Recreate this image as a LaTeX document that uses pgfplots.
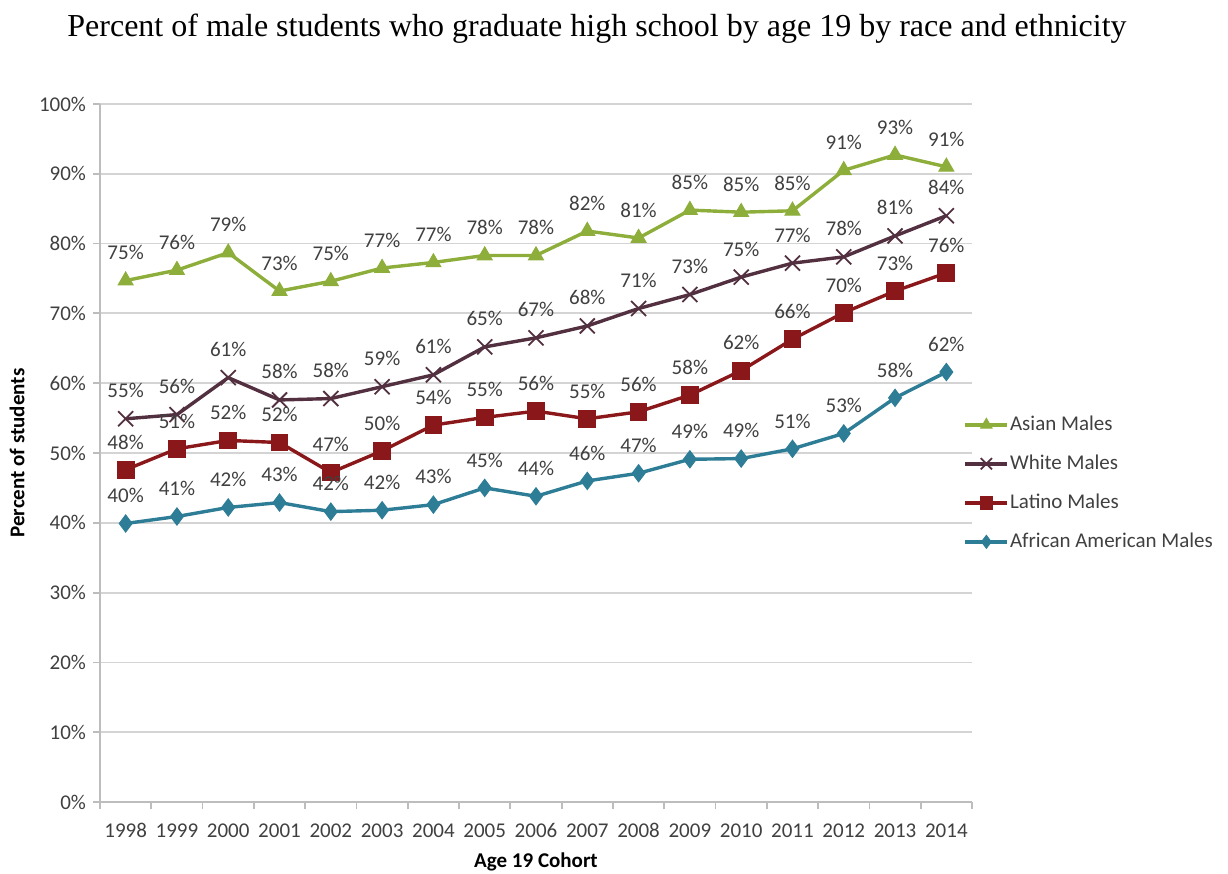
\documentclass[border=0pt]{standalone}
\usepackage{pgfplots}
\pgfplotsset{compat=1.18}
\usepackage{pgfplotstable}
\usepackage{fontspec}
\setmainfont{Carlito}
\newfontfamily\titlefont{Liberation Serif}
\definecolor{cAsian}{HTML}{8DAE3B}
\definecolor{cWhite}{HTML}{53303F}
\definecolor{cLatino}{HTML}{8A1719}
\definecolor{cAfAm}{HTML}{2E7D97}
\definecolor{gridc}{HTML}{D4D4D4}
\definecolor{axisc}{HTML}{BDBDBD}
\definecolor{txt}{HTML}{404040}

\pgfplotstableread{
x y lab
1998 74.7 75
1999 76.2 76
2000 78.7 79
2001 73.2 73
2002 74.6 75
2003 76.5 77
2004 77.3 77
2005 78.3 78
2006 78.3 78
2007 81.8 82
2008 80.8 81
2009 84.8 85
2010 84.5 85
2011 84.7 85
2012 90.5 91
2013 92.7 93
2014 91.0 91
}\asian
\pgfplotstableread{
x y lab
1998 54.9 55
1999 55.5 56
2000 60.8 61
2001 57.6 58
2002 57.8 58
2003 59.5 59
2004 61.2 61
2005 65.2 65
2006 66.5 67
2007 68.2 68
2008 70.7 71
2009 72.7 73
2010 75.2 75
2011 77.2 77
2012 78.1 78
2013 81.1 81
2014 84.0 84
}\white
\pgfplotstableread{
x y lab
1998 47.6 48
1999 50.6 51
2000 51.8 52
2001 51.5 52
2002 47.2 47
2003 50.3 50
2004 54.0 54
2005 55.1 55
2006 56.0 56
2007 54.9 55
2008 55.9 56
2009 58.3 58
2010 61.8 62
2011 66.3 66
2012 70.1 70
2013 73.2 73
2014 75.8 76
}\latino
\pgfplotstableread{
x y lab
1998 39.9 40
1999 40.9 41
2000 42.2 42
2001 42.9 43
2002 41.6 42
2003 41.8 42
2004 42.6 43
2005 45.0 45
2006 43.8 44
2007 46.0 46
2008 47.1 47
2009 49.1 49
2010 49.2 49
2011 50.6 51
2012 52.8 53
2013 57.9 58
2014 61.6 62
}\afam

\begin{document}
\begin{tikzpicture}
\begin{axis}[
  scale only axis, width=436pt, height=349pt,
  xmin=1997.5, xmax=2014.5, ymin=0, ymax=100,
  axis x line*=bottom, axis y line*=left,
  axis line style={axisc, line width=0.9pt},
  tick align=outside, major tick length=3.5pt,
  tick style={axisc, line width=0.9pt},
  ytick={0,10,...,100},
  yticklabels={0\%,10\%,20\%,30\%,40\%,50\%,60\%,70\%,80\%,90\%,100\%},
  yticklabel style={font=\fontsize{10.5}{12}\selectfont, text=txt},
  ymajorgrids, grid style={gridc, line width=0.9pt},
  xtick={1997.5,1998.5,...,2014.5}, xticklabels={},
  extra x ticks={1998,1999,2000,2001,2002,2003,2004,2005,2006,2007,2008,2009,2010,2011,2012,2013,2014},
  extra x tick labels={1998,1999,2000,2001,2002,2003,2004,2005,2006,2007,2008,2009,2010,2011,2012,2013,2014},
  extra x tick style={major tick length=0pt, xticklabel style={font=\fontsize{10.5}{12}\selectfont, text=txt, text height=7pt, text depth=0pt, yshift=-7pt}},
  xlabel={Age 19 Cohort},
  xlabel style={at={(axis description cs:0.5,-0.086)}, anchor=center, font=\bfseries\fontsize{10.5}{12}\selectfont, text=black},
  ylabel={Percent of students},
  ylabel style={at={(axis description cs:-0.0952,0.5)}, anchor=center, font=\bfseries\fontsize{10.5}{12}\selectfont, text=black},
  title={Percent of male students who graduate high school by age 19 by race and ethnicity},
  title style={at={(axis description cs:0.570,1.109)}, anchor=center, yshift=-6.5pt, font=\titlefont\fontsize{16}{19}\selectfont},
  nodes near coords={\pgfplotspointmeta\%},
  point meta=explicit symbolic,
  every node near coord/.append style={font=\fontsize{10.5}{12}\selectfont, text=txt, anchor=south, inner sep=0pt, yshift=10pt},
  legend style={at={(axis description cs:0.99,0.556)}, anchor=north west, draw=none, fill=none,
    font=\fontsize{10.5}{12}\selectfont, text=txt, row sep=9pt, inner sep=0pt,
    nodes={inner sep=0.5pt, text height=7.5pt, text depth=2pt}},
  legend cell align=left,
  legend image code/.code={\draw[mark repeat=2,mark phase=2,#1, every mark/.append style={scale=0.75}] plot coordinates {(0pt,0pt) (10.5pt,0pt) (21pt,0pt)};},
]
\addplot[cAsian, line width=1.7pt, mark=triangle*, mark size=4.3pt, mark options={solid, line width=0.5pt}] table[x=x, y=y, meta=lab] {\asian};
\addlegendentry{Asian Males}
\addplot[cWhite, line width=1.7pt, mark=x, mark size=5.3pt, mark options={solid, line width=0.9pt}] table[x=x, y=y, meta=lab] {\white};
\addlegendentry{White Males}
\addplot[cLatino, line width=1.7pt, mark=square*, mark size=4.2pt, mark options={solid, line width=0.5pt}] table[x=x, y=y, meta=lab] {\latino};
\addlegendentry{Latino Males}
\addplot[cAfAm, line width=1.7pt, mark=diamond*, mark size=4.3pt, mark options={solid, line width=0.5pt}] table[x=x, y=y, meta=lab] {\afam};
\addlegendentry{African American Males}
\end{axis}
\pgfresetboundingbox
\useasboundingbox (-50pt,-36pt) rectangle (564pt,401pt);
\end{tikzpicture}
\end{document}
